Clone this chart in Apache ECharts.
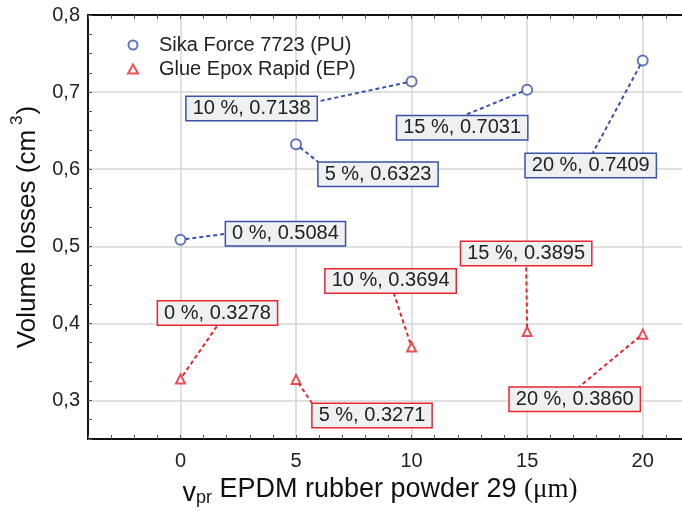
<!DOCTYPE html>
<html>
<head>
<meta charset="utf-8">
<script src="https://cdn.jsdelivr.net/npm/echarts@6/dist/echarts.min.js"></script>
<style>
  html, body { margin: 0; padding: 0; background: #fff; }
  #chart { width: 682px; height: 511px; }
</style>
</head>
<body>
<div id="chart"></div>
<script>
// data
const xValues = [0, 5, 10, 15, 20];
const puValues = [0.5084, 0.6323, 0.7138, 0.7031, 0.7409];
const epValues = [0.3278, 0.3271, 0.3694, 0.3895, 0.3860];
const puName = 'Sika Force 7723 (PU)';
const epName = 'Glue Epox Rapid (EP)';

// ticks
const xTicks = [-4, -3, -2, -1, 0, 1, 2, 3, 4, 5, 6, 7, 8, 9, 10, 11, 12, 13, 14, 15, 16, 17, 18, 19, 20, 21];
const xLabels = [0, 5, 10, 15, 20];
const yTicks = [0.25, 0.275, 0.3, 0.325, 0.35, 0.375, 0.4, 0.425, 0.45, 0.475, 0.5, 0.525, 0.55, 0.575,
  0.6, 0.625, 0.65, 0.675, 0.7, 0.725, 0.75, 0.775, 0.8];
const yLabels = [0.3, 0.4, 0.5, 0.6, 0.7, 0.8];

// where each label box sits relative to its point (px), and where the dashed
// leader meets the box (-1..1 of half width / half height)
const puLabelShift = [[105, -6], [82, 30], [-160, 27], [-65, 38], [-52, 105]];
const epLabelShift = [[37, -66], [76, 36], [-21, -66], [-1, -78], [-68, 65]];
const puAnchor = [[-1, 0], [-1, -1], [1, -0.55], [0.04, -1], [0.03, -1]];
const epAnchor = [[0, 1], [-1, -1], [0.05, 1], [0, 1], [0.07, -1]];

const FONT = '"Liberation Sans", Arial, sans-serif';
const BLUE = '#3b52a8';
const RED = '#e8262e';
const LABEL_SIZE = 20;

const chart = echarts.init(document.getElementById('chart'));

const pairs = (ys) => xValues.map((x, i) => [x, ys[i]]);

const ctx = document.createElement('canvas').getContext('2d');
ctx.font = LABEL_SIZE + 'px ' + FONT;
const textWidth = (s) => ctx.measureText(s).width;

// label box + dashed leader line, placed from the data point
const labelSeries = (ys, color, shifts, anchors, r) => ({
  type: 'custom',
  data: pairs(ys),
  encode: { x: 0, y: 1 },
  silent: true,
  z: 2,
  renderItem: (params, api) => {
    const i = params.dataIndex;
    const x = api.value(0);
    const y = api.value(1);
    const p = api.coord([x, y]);
    const text = x + ' %, ' + y.toFixed(4);
    const hw = textWidth(text) / 2 + 6.75;
    const hh = 12.5;
    const cx = p[0] + shifts[i][0];
    const cy = p[1] + shifts[i][1];
    const ex = cx + anchors[i][0] * hw;
    const ey = cy + anchors[i][1] * hh;
    const dx = ex - p[0];
    const dy = ey - p[1];
    const len = Math.hypot(dx, dy);
    return {
      type: 'group',
      children: [
        {
          type: 'line',
          shape: { x1: p[0] + dx / len * r, y1: p[1] + dy / len * r, x2: ex, y2: ey },
          style: { stroke: color, lineWidth: 2, lineDash: [4, 3] },
        },
        {
          type: 'text',
          x: cx,
          y: cy,
          style: {
            text: text,
            fontFamily: FONT,
            fontSize: LABEL_SIZE,
            fill: '#222',
            align: 'center',
            verticalAlign: 'middle',
            backgroundColor: '#eff0f1',
            borderColor: color,
            borderWidth: 1.5,
            padding: [2, 6, 1, 6],
          },
        },
      ],
    };
  },
});

const frameAxisX = { type: 'value', min: -4, max: 21.7 };

chart.setOption({
  animation: false,
  textStyle: { fontFamily: FONT },
  grid: { left: 88, right: 0, top: 15, bottom: 72, containLabel: false, outerBoundsMode: 'none' },
  legend: {
    orient: 'vertical',
    left: 122,
    top: 30,
    itemWidth: 10,
    itemHeight: 9,
    itemGap: 4,
    selectedMode: false,
    formatter: '{a|{name}}',
    textStyle: {
      fontFamily: FONT, fontSize: 20, color: '#222',
      rich: { a: { fontFamily: FONT, fontSize: 20, color: '#222', padding: [0, 0, 0, 16] } },
    },
    data: [puName, epName],
  },
  xAxis: [
    {
      ...frameAxisX,
      position: 'bottom',
      name: '{v|v}{sub|pr}{t| EPDM rubber powder 29 }{serif|(μm)}',
      nameLocation: 'middle',
      nameGap: 36,
      nameTextStyle: {
        padding: [0, 10, 0, 0],
        rich: {
          v: { fontFamily: FONT, fontSize: 27, color: '#111', verticalAlign: 'bottom', lineHeight: 32 },
          sub: { fontFamily: FONT, fontSize: 18, color: '#111', verticalAlign: 'bottom', lineHeight: 32 },
          t: { fontFamily: FONT, fontSize: 27, color: '#111', verticalAlign: 'bottom', lineHeight: 32, padding: [0, 0, 4, 0] },
          serif: { fontFamily: '"Liberation Serif", "Times New Roman", serif', fontSize: 27, color: '#111', verticalAlign: 'bottom', lineHeight: 32, padding: [0, 0, 4, 0] },
        },
      },
      axisLine: { show: true, onZero: false, lineStyle: { color: '#111', width: 2 } },
      axisTick: { show: true, inside: true, length: 4, customValues: xTicks, lineStyle: { color: '#555', width: 1 } },
      axisLabel: { customValues: xLabels, margin: 12, fontSize: 20, color: '#222', fontFamily: FONT },
      splitLine: { show: false },
    },
    {
      ...frameAxisX,
      position: 'top',
      axisLine: { show: true, onZero: false, lineStyle: { color: '#111', width: 2 } },
      axisTick: { show: true, inside: true, length: 4, customValues: xTicks, lineStyle: { color: '#555', width: 1 } },
      axisLabel: { show: false },
      splitLine: { show: false },
    },
    {
      // vertical grid lines only at the labelled values
      ...frameAxisX,
      position: 'bottom',
      axisLine: { show: false },
      axisTick: { show: false, customValues: xLabels },
      axisLabel: { show: false },
      splitLine: { show: true, lineStyle: { color: '#d6d6d6', width: 1.5 } },
    },
  ],
  yAxis: [
    {
      type: 'value',
      min: 0.25,
      max: 0.8,
      position: 'left',
      name: '{t|Volume losses (cm}{sup|3}{t|)}',
      nameLocation: 'middle',
      nameGap: 46,
      nameTextStyle: {
        rich: {
          t: { fontFamily: FONT, fontSize: 26, color: '#111', verticalAlign: 'bottom', lineHeight: 32 },
          sup: { fontFamily: FONT, fontSize: 17, color: '#111', verticalAlign: 'top', lineHeight: 32, padding: [0, 1, 0, 5] },
        },
      },
      axisLine: { show: true, onZero: false, lineStyle: { color: '#111', width: 2 } },
      axisTick: { show: true, inside: true, length: 4, customValues: yTicks, lineStyle: { color: '#555', width: 1 } },
      axisLabel: {
        customValues: yLabels,
        margin: 8,
        fontSize: 20,
        color: '#222',
        fontFamily: FONT,
        formatter: (v) => v.toFixed(1).replace('.', ','),
      },
      splitLine: { show: false },
    },
    {
      // horizontal grid lines only at the labelled values
      type: 'value',
      min: 0.25,
      max: 0.8,
      position: 'left',
      axisLine: { show: false },
      axisTick: { show: false, customValues: yLabels },
      axisLabel: { show: false },
      splitLine: { show: true, lineStyle: { color: '#d6d6d6', width: 1.5 } },
    },
  ],
  series: [
    {
      name: puName,
      type: 'scatter',
      data: pairs(puValues),
      symbol: 'emptyCircle',
      symbolSize: 10,
      itemStyle: { color: BLUE, borderWidth: 1.5 },
      z: 3,
    },
    {
      name: epName,
      type: 'scatter',
      data: pairs(epValues),
      symbol: 'emptyTriangle',
      symbolSize: 9,
      itemStyle: { color: RED, borderWidth: 1.5 },
      z: 3,
    },
    labelSeries(puValues, BLUE, puLabelShift, puAnchor, 5),
    labelSeries(epValues, RED, epLabelShift, epAnchor, 4),
  ],
});
</script>
</body>
</html>
